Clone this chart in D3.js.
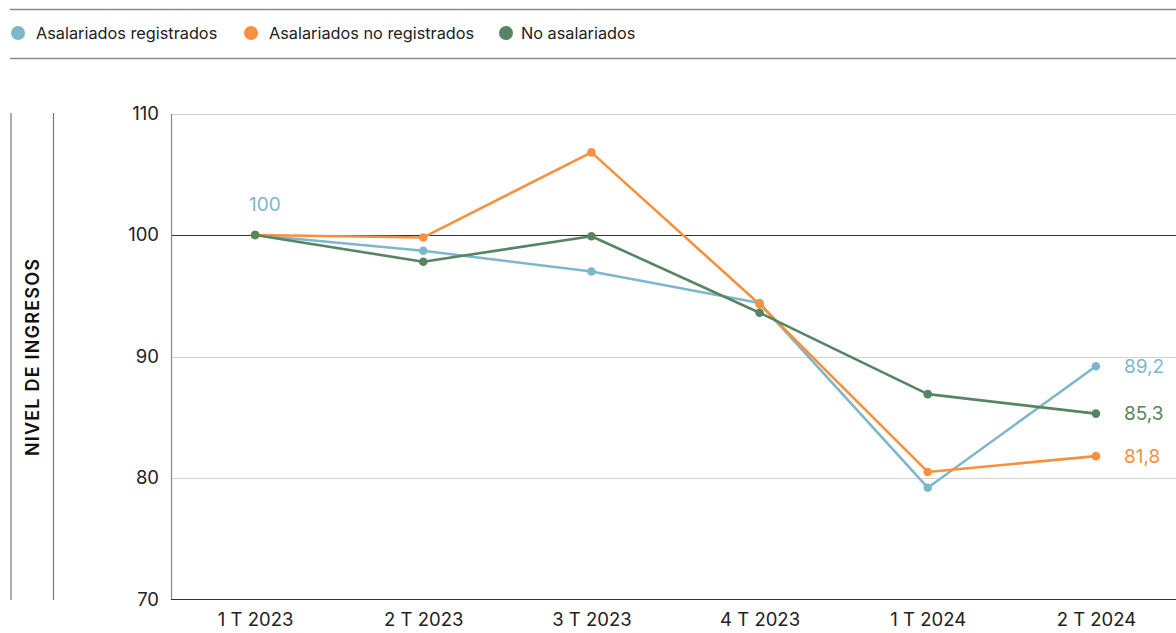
<!DOCTYPE html>
<html>
<head>
<meta charset="utf-8">
<script src="https://cdn.jsdelivr.net/npm/d3@7"></script>
<style>
  html, body { margin: 0; padding: 0; background: #fff; }
  svg { display: block; font-family: Inter, "Noto Sans", sans-serif; }
</style>
</head>
<body>
<svg id="chart" width="1176" height="633"></svg>
<script>
// Quarterly income index (1 T 2023 = 100)
const categories = ["1 T 2023", "2 T 2023", "3 T 2023", "4 T 2023", "1 T 2024", "2 T 2024"];
const seriesNames = ["Asalariados registrados", "Asalariados no registrados", "No asalariados"];
const seriesColors = ["#7db8ca", "#f5913f", "#578462"];
const registrados = [100, 98.7, 97.0, 94.4, 79.2, 89.2];
const noRegistrados = [100, 99.8, 106.8, 94.3, 80.5, 81.8];
const noAsalariados = [100, 97.8, 99.9, 93.6, 86.9, 85.3];
const yTicks = [70, 80, 90, 100, 110];
const endLabels = ["89,2", "81,8", "85,3"];
const startLabel = "100";

const series = [registrados, noRegistrados, noAsalariados];

const svg = d3.select("#chart");
const W = 1176;

// Legend band with rules above and below
svg.append("line").attr("x1", 10).attr("x2", W).attr("y1", 9.5).attr("y2", 9.5)
  .attr("stroke", "#8a8a8a").attr("stroke-width", 1.5);
svg.append("line").attr("x1", 10).attr("x2", W).attr("y1", 58.5).attr("y2", 58.5)
  .attr("stroke", "#8a8a8a").attr("stroke-width", 1.5);

const legendX = [18, 251, 506];
seriesNames.forEach((name, i) => {
  const g = svg.append("g").attr("transform", `translate(${legendX[i]},33)`);
  g.append("circle").attr("r", 7).attr("fill", seriesColors[i]);
  g.append("text").attr("x", i === 2 ? 15 : 18).attr("y", 0).attr("dy", "0.35em")
    .attr("font-size", 16.3).attr("fill", "#222").text(name);
});

// Y axis title framed by two vertical rules
svg.append("line").attr("x1", 11).attr("x2", 11).attr("y1", 113).attr("y2", 600)
  .attr("stroke", "#777").attr("stroke-width", 1.2);
svg.append("line").attr("x1", 53.5).attr("x2", 53.5).attr("y1", 113).attr("y2", 600)
  .attr("stroke", "#777").attr("stroke-width", 1.2);
svg.append("text")
  .attr("transform", "translate(39,357) rotate(-90)")
  .attr("text-anchor", "middle")
  .attr("font-size", 18).attr("font-weight", 600).attr("fill", "#111")
  .attr("letter-spacing", "1.2")
  .text("NIVEL DE INGRESOS");

// Scales
const plot = { left: 171, right: 1176, top: 113.5, bottom: 599.5 };
const x = d3.scalePoint().domain(categories).range([plot.left, plot.left + 1009]).padding(0.5);
const y = d3.scaleLinear().domain([70, 110]).range([plot.bottom, plot.top]);

// Horizontal gridlines
svg.append("g").selectAll("line").data(yTicks.filter(t => t !== 70 && t !== 100)).join("line")
  .attr("x1", plot.left).attr("x2", plot.right)
  .attr("y1", d => Math.round(y(d)) + 0.5).attr("y2", d => Math.round(y(d)) + 0.5)
  .attr("stroke", "#d4d4d4").attr("stroke-width", 1);

// Baseline at 100
svg.append("line").attr("x1", plot.left).attr("x2", plot.right)
  .attr("y1", Math.round(y(100)) + 0.5).attr("y2", Math.round(y(100)) + 0.5)
  .attr("stroke", "#333").attr("stroke-width", 1.2);

// Y axis
const yAxis = svg.append("g").attr("transform", `translate(${plot.left},0)`)
  .call(d3.axisLeft(y).tickValues(yTicks).tickSize(0).tickPadding(12));
yAxis.select(".domain").attr("stroke", "#888").attr("stroke-width", 1.2);
yAxis.selectAll("text").attr("font-size", 18.5).attr("fill", "#222")
  .attr("font-family", "Inter, 'Noto Sans', sans-serif");

// X axis
const xAxis = svg.append("g").attr("transform", `translate(0,${plot.bottom})`)
  .call(d3.axisBottom(x).tickSize(0).tickPadding(13));
xAxis.select(".domain").attr("stroke", "#333").attr("stroke-width", 1.2)
  .attr("d", `M${plot.left},0H${plot.right}`);
xAxis.selectAll("text").attr("font-size", 18.5).attr("fill", "#222")
  .attr("font-family", "Inter, 'Noto Sans', sans-serif");

// Series lines and markers
const line = d3.line().x((d, i) => x(categories[i])).y(d => y(d));
series.forEach((vals, s) => {
  svg.append("path").datum(vals)
    .attr("d", line).attr("fill", "none")
    .attr("stroke", seriesColors[s]).attr("stroke-width", 2.6)
    .attr("stroke-linejoin", "round");
  svg.append("g").selectAll("circle").data(vals).join("circle")
    .attr("cx", (d, i) => x(categories[i])).attr("cy", d => y(d))
    .attr("r", 4.3).attr("fill", seriesColors[s]);
});

// Value labels
svg.append("text")
  .attr("x", x(categories[0]) - 6).attr("y", y(registrados[0]) - 24)
  .attr("font-size", 19).attr("fill", seriesColors[0]).text(startLabel);

const last = categories.length - 1;
series.forEach((vals, s) => {
  svg.append("text")
    .attr("x", x(categories[last]) + 28).attr("y", y(vals[last])).attr("dy", "0.35em")
    .attr("font-size", 19).attr("fill", seriesColors[s]).text(endLabels[s]);
});
</script>
</body>
</html>
